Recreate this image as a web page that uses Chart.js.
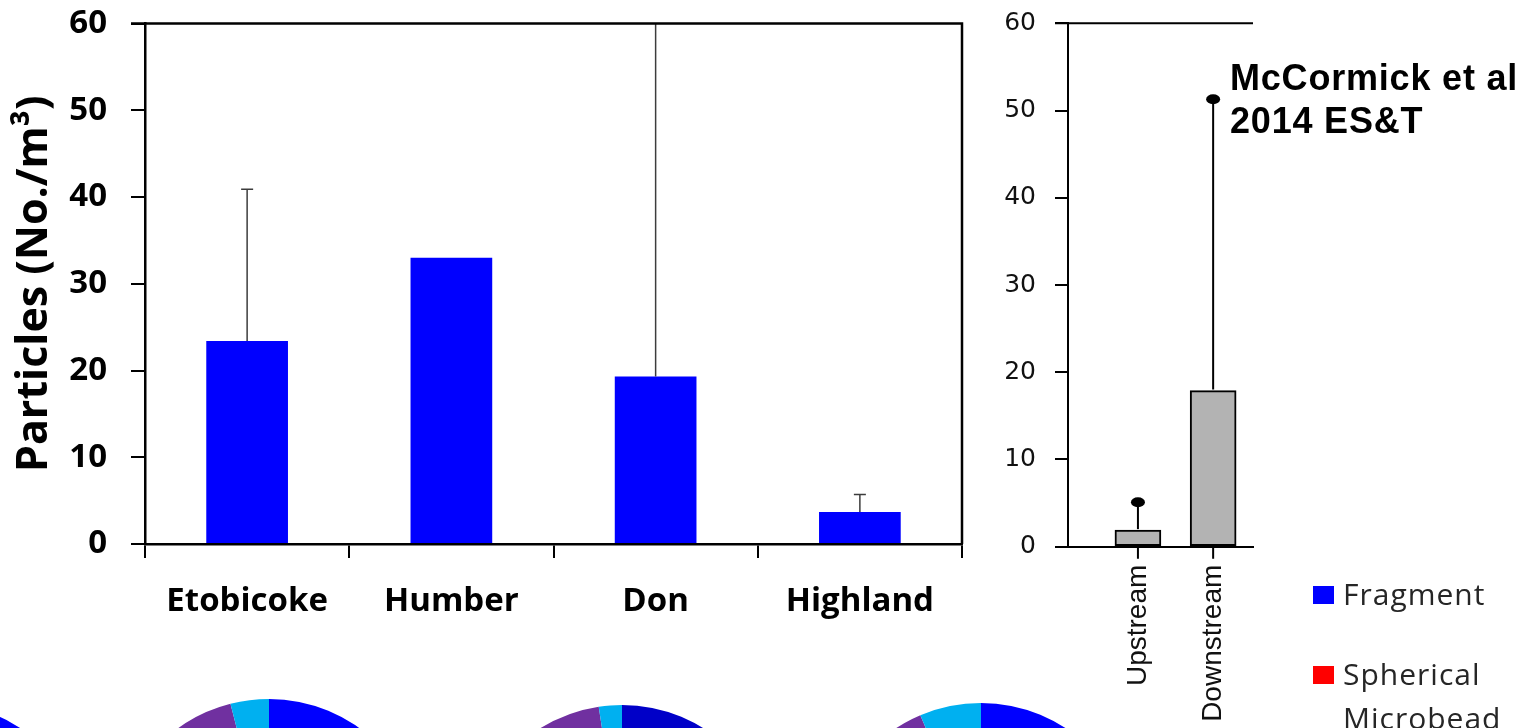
<!DOCTYPE html>
<html>
<head>
<meta charset="utf-8">
<script src="https://cdn.jsdelivr.net/npm/chart.js@4.4.1/dist/chart.umd.min.js"></script>
<style>
  html, body { margin: 0; padding: 0; background: #ffffff; }
  body { width: 1532px; height: 728px; overflow: hidden; position: relative; }
  canvas { position: absolute; display: block; }
</style>
</head>
<body>
<canvas id="pie0" width="310" height="310" style="left:-221px;top:702px"></canvas>
<canvas id="pie1" width="310" height="310" style="left:114px;top:699px"></canvas>
<canvas id="pie2" width="310" height="310" style="left:467px;top:705px"></canvas>
<canvas id="pie3" width="310" height="310" style="left:826px;top:703px"></canvas>
<canvas id="rivers" width="975" height="660" style="left:0;top:0"></canvas>
<canvas id="effluent" width="557" height="760" style="left:975px;top:0"></canvas>
<script>
// Toronto river sites: mean particle counts and upper error bounds (No./m3)
const sites = ['Etobicoke', 'Humber', 'Don', 'Highland'];
const siteMeans = [23.4, 33.0, 19.3, 3.7];
const siteUpper = [40.9, null, 68.0, 5.7];   // Don's upper bound runs past the axis
const yTicks = [0, 10, 20, 30, 40, 50, 60];
const yTitle = 'Particles (No./m³)';

// Upstream / downstream of a treatment plant
const wwtpLabels = ['Upstream', 'Downstream'];
const wwtpPos = [1, 2];
const wwtpMeans = [1.9, 17.9];
const wwtpUpper = [5.1, 51.3];
const citation = ['McCormick et al', '2014 ES&T'];

// Particle shape composition per site (percent)
const shapeCategories = ['Fragment', 'Spherical Microbead', 'Fiber', 'Film'];
const pieEtobicoke = [72, 4, 16, 8];
const pieHumber = [70, 6, 20, 4];
const pieDon = [66, 6, 25.6, 2.4];
const pieHighland = [76, 3, 14.6, 6.4];

const shapeColors = ['#0000ff', '#ff0000', '#7030a0', '#00b0f0'];
const fragmentShades = ['#0000ff', '#0000ff', '#0000c8', '#0000ff'];

const BOLD = '"Open Sans", "DejaVu Sans", sans-serif';
const ARIAL = '"Liberation Sans", Arial, sans-serif';

// Frame: top and right edges of the river plot
const riverFrame = {
  id: 'riverFrame',
  afterDraw(chart) {
    const { ctx, chartArea: a } = chart;
    ctx.save();
    ctx.strokeStyle = '#000';
    ctx.lineWidth = 2.5;
    ctx.beginPath();
    ctx.moveTo(a.left - 14, a.top);
    ctx.lineTo(a.right, a.top);
    ctx.lineTo(a.right, a.bottom);
    ctx.stroke();
    ctx.restore();
  }
};

// Upper error bars for the river bars
const riverErrors = {
  id: 'riverErrors',
  afterDatasetsDraw(chart) {
    const { ctx, chartArea: a, scales: { x, y } } = chart;
    ctx.save();
    ctx.beginPath();
    ctx.rect(a.left, a.top, a.right - a.left, a.bottom - a.top);
    ctx.clip();
    ctx.strokeStyle = '#3c3c3c';
    ctx.lineWidth = 1.5;
    siteUpper.forEach((u, i) => {
      if (u == null) return;
      const px = x.getPixelForValue(i);
      const y0 = y.getPixelForValue(siteMeans[i]);
      const y1 = y.getPixelForValue(u);
      ctx.beginPath();
      ctx.moveTo(px, y0);
      ctx.lineTo(px, y1);
      ctx.moveTo(px - 6, y1);
      ctx.lineTo(px + 6, y1);
      ctx.stroke();
    });
    ctx.restore();
  }
};

// Top line, x tick marks, lollipop error bars, citation and shape legend for the plant panel
const effluentExtras = {
  id: 'effluentExtras',
  afterDraw(chart) {
    const { ctx, chartArea: a, scales: { x, y } } = chart;
    ctx.save();
    ctx.strokeStyle = '#000';
    ctx.lineWidth = 2;
    ctx.beginPath();
    ctx.moveTo(a.left - 13, a.top);
    ctx.lineTo(a.right, a.top);
    wwtpPos.forEach(p => {
      const px = x.getPixelForValue(p);
      ctx.moveTo(px, a.bottom);
      ctx.lineTo(px, a.bottom + 12);
    });
    ctx.stroke();

    wwtpUpper.forEach((u, i) => {
      const px = x.getPixelForValue(wwtpPos[i]);
      const y0 = y.getPixelForValue(wwtpMeans[i]);
      const y1 = y.getPixelForValue(u);
      ctx.beginPath();
      ctx.moveTo(px, y0 - 1);
      ctx.lineTo(px, y1);
      ctx.stroke();
      ctx.beginPath();
      ctx.ellipse(px, y1, 7, 5, 0, 0, Math.PI * 2);
      ctx.fillStyle = '#000';
      ctx.fill();
    });

    ctx.fillStyle = '#000';
    ctx.font = 'bold 36px ' + ARIAL;
    ctx.letterSpacing = '0.8px';
    ctx.textBaseline = 'alphabetic';
    ctx.textAlign = 'left';
    citation.forEach((line, i) => ctx.fillText(line, 255, 90 + i * 43));

    ctx.font = '30px ' + BOLD;
    ctx.letterSpacing = '1px';
    shapeCategories.forEach((name, i) => {
      const top = 586 + i * 80;
      ctx.fillStyle = shapeColors[i];
      ctx.fillRect(338, top, 21, 18);
      ctx.fillStyle = '#262626';
      name.split(' ').forEach((word, j) => ctx.fillText(word, 368, top + 19 + j * 44));
    });
    ctx.restore();
  }
};

function draw() {
  new Chart(document.getElementById('rivers'), {
    type: 'bar',
    data: {
      labels: sites,
      datasets: [{
        data: siteMeans,
        backgroundColor: '#0000ff',
        borderWidth: 0,
        categoryPercentage: 1,
        barPercentage: 0.4
      }]
    },
    options: {
      responsive: false,
      animation: false,
      devicePixelRatio: 1,
      layout: { padding: { top: 23.5, right: 13, left: 0, bottom: 0 } },
      plugins: { legend: { display: false }, tooltip: { enabled: false } },
      scales: {
        x: {
          grid: { drawOnChartArea: false, offset: true, tickLength: 14, color: '#000', lineWidth: 2 },
          border: { display: true, color: '#000', width: 2.5 },
          ticks: { color: '#000', font: { family: BOLD, weight: 'bold', size: 33 }, padding: 24, maxRotation: 0, autoSkip: false },
          afterFit(s) { s.height = 116; s.paddingLeft = 0; s.paddingRight = 0; }
        },
        y: {
          min: 0, max: 60,
          afterBuildTicks(s) { s.ticks = yTicks.map(v => ({ value: v })); },
          ticks: { color: '#000', font: { family: BOLD, weight: 'bold', size: 33 }, padding: 24 },
          grid: { drawOnChartArea: false, tickLength: 14, color: '#000', lineWidth: 2 },
          border: { display: true, color: '#000', width: 2.5 },
          title: {
            display: true, text: yTitle, color: '#000',
            font: { family: BOLD, weight: 'bold', size: 43 },
            padding: { top: 9, bottom: 0 }
          },
          afterFit(s) { s.width = 145; s.paddingTop = 0; s.paddingBottom = 0; }
        }
      }
    },
    plugins: [riverFrame, riverErrors]
  });

  new Chart(document.getElementById('effluent'), {
    type: 'bar',
    data: {
      datasets: [{
        data: wwtpPos.map((p, i) => ({ x: p, y: wwtpMeans[i] })),
        backgroundColor: '#b3b3b3',
        borderColor: '#000',
        borderWidth: 2,
        borderSkipped: false,
        barThickness: 46
      }]
    },
    options: {
      responsive: false,
      animation: false,
      devicePixelRatio: 1,
      layout: { padding: { top: 23.3, right: 279, left: 0, bottom: 0 } },
      plugins: { legend: { display: false }, tooltip: { enabled: false } },
      scales: {
        x: {
          type: 'linear', min: 0.07, max: 2.53, offset: false,
          afterBuildTicks(s) { s.ticks = wwtpPos.map(v => ({ value: v })); },
          ticks: {
            callback: (v, i) => wwtpLabels[i],
            minRotation: 90, maxRotation: 90, autoSkip: false,
            color: '#111', font: { family: ARIAL, size: 28 }, padding: 10
          },
          grid: { display: false },
          border: { display: true, color: '#000', width: 2 },
          afterFit(s) { s.height = 760 - 546.7; s.paddingLeft = 0; s.paddingRight = 0; }
        },
        y: {
          min: 0, max: 60,
          afterBuildTicks(s) { s.ticks = yTicks.map(v => ({ value: v })); },
          ticks: { color: '#111', font: { family: '"DejaVu Sans", sans-serif', size: 25 }, padding: 19 },
          grid: { drawOnChartArea: false, tickLength: 13, color: '#000', lineWidth: 2 },
          border: { display: true, color: '#000', width: 2 },
          afterFit(s) { s.width = 93; s.paddingTop = 0; s.paddingBottom = 0; }
        }
      }
    },
    plugins: [effluentExtras]
  });

  [pieEtobicoke, pieHumber, pieDon, pieHighland].forEach((vals, k) => {
    new Chart(document.getElementById('pie' + k), {
      type: 'pie',
      data: {
        labels: shapeCategories,
        datasets: [{
          data: vals,
          backgroundColor: [fragmentShades[k]].concat(shapeColors.slice(1)),
          borderWidth: 0,
          offset: 0,
          hoverOffset: 0
        }]
      },
      options: {
        responsive: false,
        animation: false,
        devicePixelRatio: 1,
        layout: { padding: 0 },
        plugins: { legend: { display: false }, tooltip: { enabled: false } }
      }
    });
  });
}

Promise.all([
  document.fonts.load('bold 33px "Open Sans"'),
  document.fonts.load('30px "Open Sans"'),
  document.fonts.load('bold 36px "Liberation Sans"'),
  document.fonts.load('28px "Liberation Sans"'),
  document.fonts.load('25px "DejaVu Sans"')
]).then(draw, draw);
</script>
</body>
</html>
